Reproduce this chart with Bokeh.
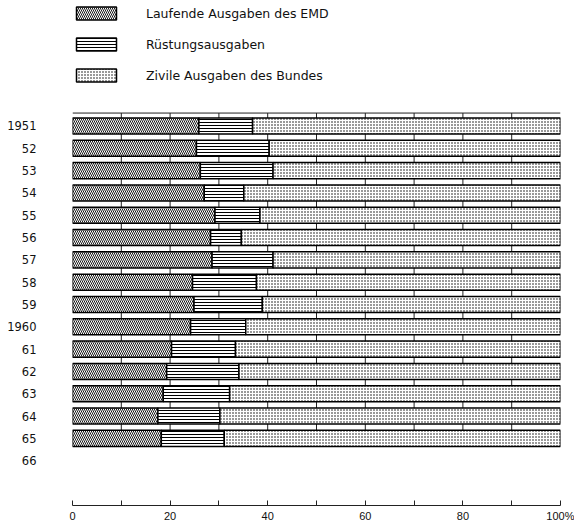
from bokeh.plotting import figure
from bokeh.models import Range1d, FixedTicker, LinearAxis, ColumnDataSource, Span
from bokeh.embed import file_html
from bokeh.resources import INLINE

# ---- data (shares in % of federal expenditure) ----
years = ["1951", "52", "53", "54", "55", "56", "57", "58", "59",
         "1960", "61", "62", "63", "64", "65", "66"]
emd = [25.9, 25.4, 26.2, 27.0, 29.2, 28.3, 28.6, 24.6, 24.9,
       24.2, 20.3, 19.3, 18.6, 17.5, 18.2]
ruestung = [11.0, 14.9, 14.9, 8.1, 9.2, 6.3, 12.5, 13.1, 14.0,
            11.3, 13.1, 14.8, 13.6, 12.7, 12.9]
zivil = [63.1, 59.7, 58.9, 64.9, 61.6, 65.4, 58.9, 62.3, 61.1,
         64.5, 66.6, 65.9, 67.8, 69.8, 68.9]
series_names = ["Laufende Ausgaben des EMD", "Rüstungsausgaben",
                "Zivile Ausgaben des Bundes"]
x_label_ticks = [0, 20, 40, 60, 80, 100]
x_minor_ticks = [10, 30, 50, 70, 90]
grid_ticks = [10, 20, 30, 40, 50, 60, 70, 80, 90]

n_bars = len(emd)
bar_h = 0.72
top_line = -0.58          # top rule of the bar block (in row units)
y_frame_top = -5.625
y_frame_bottom = 17.01

src = ColumnDataSource(dict(row=list(range(n_bars)), emd=emd,
                            ruest=ruestung, zivil=zivil))

p = figure(width=574, height=524, output_backend="svg", toolbar_location=None,
           x_range=Range1d(0, 100), y_range=Range1d(y_frame_bottom, y_frame_top),
           x_axis_location=None, y_axis_location=None,
           min_border_left=72, min_border_right=14,
           min_border_top=0, min_border_bottom=17)
p.outline_line_color = None
p.background_fill_color = "white"
p.border_fill_color = "white"

line_col = "#222222"

# top rule
p.add_layout(Span(location=top_line, dimension="width",
                  line_color=line_col, line_width=1))

# grid lines visible between the bars
n_g = len(grid_ticks)
p.segment(x0=grid_ticks, y0=[top_line] * n_g, x1=grid_ticks,
          y1=[n_bars - 1 + bar_h / 2] * n_g,
          line_color=line_col, line_width=1)

p.hbar_stack(["emd", "ruest", "zivil"], y="row", height=bar_h, source=src,
             fill_color="white", line_color="black", line_width=1.5,
             hatch_color="black",
             hatch_pattern=["\\", "-", "."],
             hatch_scale=[4, 3, 3],
             hatch_weight=[0.9, 1.0, 2.0],
             legend_label=series_names)

text_color = "#111111"

# year labels
yax = LinearAxis(ticker=FixedTicker(ticks=list(range(len(years)))),
                 major_label_overrides={i: t for i, t in enumerate(years)})
yax.axis_line_color = None
yax.major_tick_line_color = None
yax.minor_tick_line_color = None
yax.major_tick_out = 0
yax.major_label_standoff = 36
yax.major_label_text_font = "DejaVu Sans"
yax.major_label_text_font_size = "11.5px"
yax.major_label_text_color = text_color
p.add_layout(yax, "left")

# bottom scale
xax = LinearAxis(ticker=FixedTicker(ticks=x_label_ticks, minor_ticks=x_minor_ticks),
                 major_label_overrides={100: "100%"})
xax.axis_line_color = line_col
xax.major_tick_in = 5
xax.major_tick_out = 0
xax.minor_tick_in = 5
xax.minor_tick_out = 0
xax.major_tick_line_color = line_col
xax.minor_tick_line_color = line_col
xax.major_label_standoff = 4
xax.major_label_text_font = "Liberation Sans"
xax.major_label_text_font_size = "11px"
xax.major_label_text_color = text_color
p.add_layout(xax, "below")

p.xgrid.visible = False
p.ygrid.visible = False

leg = p.legend[0]
leg.location = (-1, 422)
leg.glyph_width = 50
leg.glyph_height = 16
leg.label_height = 16
leg.spacing = 15
leg.label_standoff = 25
leg.padding = 0
leg.margin = 0
leg.border_line_color = None
leg.background_fill_alpha = 0
leg.label_text_font = "DejaVu Sans"
leg.label_text_font_size = "12.5px"
leg.label_text_color = text_color

open("out.html", "w").write(file_html(p, INLINE))
